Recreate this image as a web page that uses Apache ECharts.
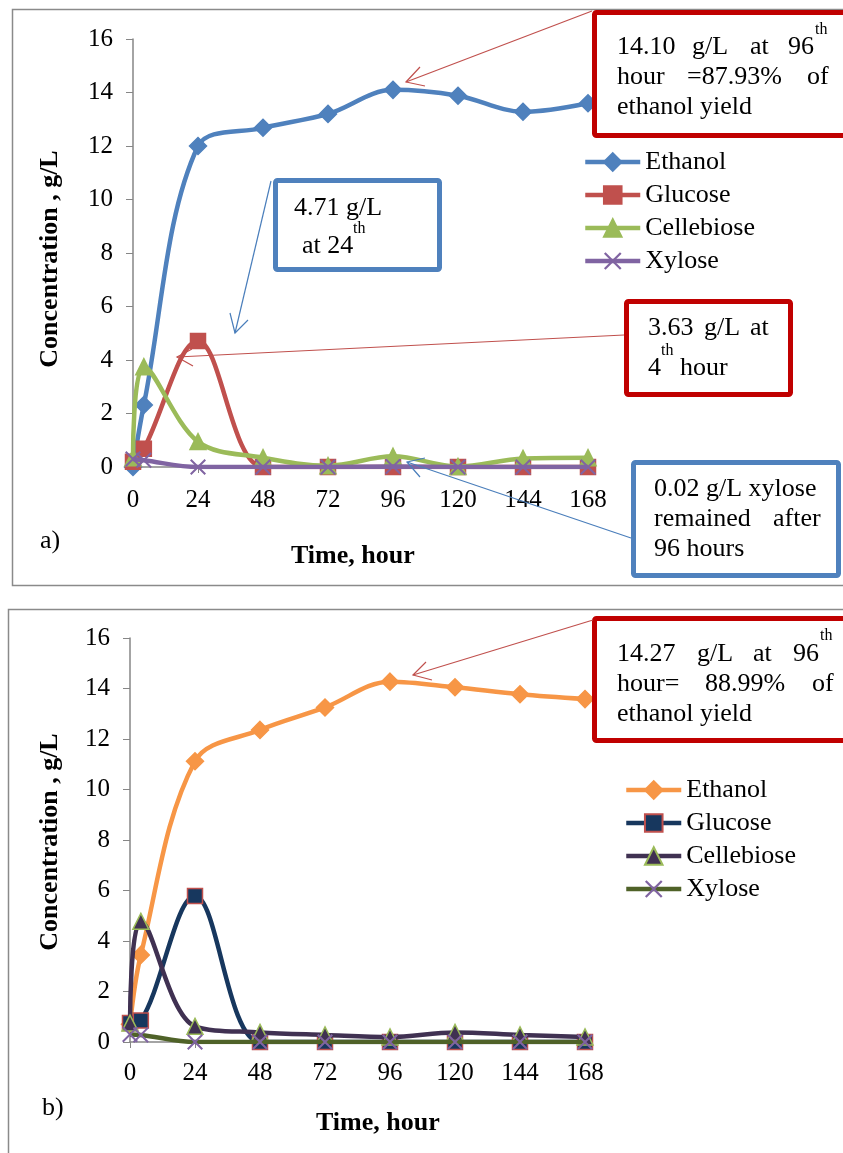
<!DOCTYPE html>
<html>
<head>
<meta charset="utf-8">
<script src="https://cdn.jsdelivr.net/npm/echarts@6/dist/echarts.min.js"></script>
<style>
html,body{margin:0;padding:0;background:#fff;}
#c1{position:absolute;left:0;top:0;width:843px;height:597px;}
#c2{position:absolute;left:0;top:597px;width:843px;height:556px;}
</style>
</head>
<body>
<div id="c1"></div>
<div id="c2"></div>
<script>
// ---- data ----
const hours = [0, 4, 24, 48, 72, 96, 120, 144, 168];
const seriesNames = ['Ethanol', 'Glucose', 'Cellebiose', 'Xylose'];
// chart a)
const ethanolA = [0, 2.32, 12.0, 12.68, 13.2, 14.1, 13.88, 13.28, 13.6];
const glucoseA = [0.2, 0.68, 4.71, 0, 0, 0, 0, 0, 0];
const cellobioseA = [0.35, 3.75, 0.95, 0.35, 0.05, 0.4, 0.02, 0.32, 0.35];
const xyloseA = [0.3, 0.25, 0, 0, 0, 0.02, 0, 0, 0];
// chart b)
const ethanolB = [0.7, 3.45, 11.12, 12.36, 13.25, 14.27, 14.05, 13.77, 13.58];
const glucoseB = [0.75, 0.85, 5.78, 0, 0, 0, 0, 0, 0];
const cellobioseB = [0.75, 4.78, 0.62, 0.38, 0.28, 0.2, 0.38, 0.28, 0.2];
const xyloseB = [0.3, 0.28, 0, 0, 0, 0, 0, 0, 0];
// axes
const xMin = 0, xMax = 168, xStep = 24;
const yMin = 0, yMax = 16, yStep = 2;
const xAxisTitle = 'Time, hour';
const yAxisTitle = 'Concentration , g/L';

const FONT = "'Liberation Serif', 'Times New Roman', serif";
const X_SYMBOL = 'path://M0,0.9L0.9,0L10,9.1L9.1,10Z M9.1,0L10,0.9L0.9,10L0,9.1Z';

function pairs(vals) { return hours.map((h, i) => [h, vals[i]]); }

function txt(x, y, s, size, opts) {
  opts = opts || {};
  return {
    type: 'text', x: x, y: y, rotation: opts.rotation || 0, z: 100,
    style: {
      text: s, fill: '#000',
      font: (opts.bold ? 'bold ' : '') + size + 'px ' + FONT,
      textAlign: opts.align || 'left', textVerticalAlign: 'middle'
    }
  };
}
function box(x, y, w, h, color) {
  return { type: 'rect', z: 90, shape: { x: x, y: y, width: w, height: h, r: 2 },
    style: { fill: '#fff', stroke: color, lineWidth: 5 } };
}
function arrow(start, tip, w1, w2, color) {
  return [
    { type: 'polyline', z: 95, shape: { points: [start, tip] }, style: { stroke: color, lineWidth: 1.2, fill: null } },
    { type: 'polyline', z: 95, shape: { points: [w1, tip, w2] }, style: { stroke: color, lineWidth: 1.2, fill: null } }
  ];
}
function frame(x, y, w, h) {
  return { type: 'rect', z: 1, shape: { x: x, y: y, width: w, height: h },
    style: { fill: null, stroke: '#8a8a8a', lineWidth: 1.5 } };
}

function axes() {
  const axisLine = { show: true, onZero: false, lineStyle: { color: '#868686', width: 1.5 } };
  return {
    xAxis: {
      type: 'value', min: xMin, max: xMax, interval: xStep,
      axisLine: axisLine, axisTick: { show: true, length: 6, lineStyle: { color: '#868686' } },
      splitLine: { show: false },
      axisLabel: { color: '#000', fontFamily: FONT, fontSize: 25, margin: 21 }
    },
    yAxis: {
      type: 'value', min: yMin, max: yMax, interval: yStep,
      axisLine: axisLine, axisTick: { show: true, length: 7, lineStyle: { color: '#868686' } },
      splitLine: { show: false },
      axisLabel: { color: '#000', fontFamily: FONT, fontSize: 25, margin: 20 }
    }
  };
}

function lineSeries(name, vals, lineColor, fill, border, symbol, size, z, bw) {
  return {
    name: name, type: 'line', data: pairs(vals), smooth: 0.35,
    symbol: symbol, symbolSize: size, z: z,
    lineStyle: { color: lineColor, width: 4.5 },
    itemStyle: { color: fill, borderColor: border, borderWidth: bw === undefined ? 1.5 : bw },
    emphasis: { disabled: true }
  };
}

function legend(left, top) {
  return {
    orient: 'vertical', left: left, top: top, itemWidth: 55, itemHeight: 22, itemGap: 7,
    selectedMode: false, data: seriesNames, padding: 0,
    lineStyle: { width: 4.5 },
    textStyle: { color: '#000', fontFamily: FONT, fontSize: 26, lineHeight: 26 }
  };
}

// ---------- chart a ----------
const c1 = echarts.init(document.getElementById('c1'));
const a1 = axes();
const g1 = [
  frame(12.5, 9.5, 840, 576),
  txt(50, 259, yAxisTitle, 26, { bold: true, align: 'center', rotation: Math.PI / 2 }),
  txt(291, 556, xAxisTitle, 26, { bold: true }),
  txt(40, 541, 'a)', 26),
  // 14.10 box
  box(594.5, 12.5, 300, 123, '#C00000'),
  txt(617, 47.5, '14.10', 26), txt(692, 47.5, 'g/L', 26), txt(750, 47.5, 'at', 26), txt(788, 47.5, '96', 26),
  txt(815, 30, 'th', 16),
  txt(617, 77.5, 'hour', 26), txt(687, 77.5, '=87.93%', 26), txt(807, 77.5, 'of', 26),
  txt(617, 107.5, 'ethanol yield', 26),
  // 4.71 box
  box(275.5, 180.5, 164, 89, '#4F81BD'),
  txt(294, 208.5, '4.71 g/L', 26), txt(302, 246.5, 'at 24', 26), txt(353, 229, 'th', 16),
  // 3.63 box
  box(626.5, 301.5, 164, 93, '#C00000'),
  txt(648, 328.5, '3.63', 26), txt(704, 328.5, 'g/L', 26), txt(750, 328.5, 'at', 26),
  txt(648, 368.5, '4', 26), txt(661, 351, 'th', 16), txt(680, 368.5, 'hour', 26),
  // 0.02 box
  box(633.5, 462.5, 205, 113, '#4F81BD'),
  txt(654, 489.5, '0.02 g/L xylose', 26),
  txt(654, 519.5, 'remained', 26), txt(773, 519.5, 'after', 26),
  txt(654, 549.5, '96 hours', 26)
].concat(
  arrow([592, 11], [406, 82], [420, 67], [425, 86], '#C0504D'),
  arrow([271, 181], [235, 333], [230, 313], [248, 320], '#4A7EBB'),
  arrow([624, 335], [177, 357], [192, 349], [193, 366], '#C0504D'),
  arrow([631, 538], [407, 462], [425, 458], [420, 477], '#4A7EBB')
);
c1.setOption({
  animation: false,
  grid: { left: 133, top: 39, width: 455, height: 428 },
  xAxis: a1.xAxis, yAxis: a1.yAxis,
  legend: legend(583, 149),
  series: [
    lineSeries('Ethanol', ethanolA, '#4F81BD', '#4F81BD', '#4F81BD', 'diamond', 17, 2),
    lineSeries('Glucose', glucoseA, '#C0504D', '#C0504D', '#C0504D', 'rect', 15, 3),
    lineSeries('Cellebiose', cellobioseA, '#9BBB59', '#9BBB59', '#9BBB59', 'triangle', 16, 4),
    lineSeries('Xylose', xyloseA, '#8064A2', '#8064A2', '#8064A2', X_SYMBOL, 16, 5, 0)
  ],
  graphic: g1
});

// ---------- chart b ----------
const c2 = echarts.init(document.getElementById('c2'));
const a2 = axes();
a2.xAxis.axisLabel.margin = 19;
const g2 = [
  frame(8.5, 12.5, 845, 600),
  txt(50, 245, yAxisTitle, 26, { bold: true, align: 'center', rotation: Math.PI / 2 }),
  txt(316, 526, xAxisTitle, 26, { bold: true }),
  txt(42, 511, 'b)', 26),
  box(594.5, 21.5, 300, 122, '#C00000'),
  txt(617, 57.5, '14.27', 26), txt(697, 57.5, 'g/L', 26), txt(753, 57.5, 'at', 26), txt(793, 57.5, '96', 26),
  txt(820, 39, 'th', 16),
  txt(617, 87.5, 'hour=', 26), txt(705, 87.5, '88.99%', 26), txt(812, 87.5, 'of', 26),
  txt(617, 117.5, 'ethanol yield', 26)
].concat(
  arrow([593, 23], [413, 78], [426, 65], [432, 83], '#C0504D')
);
c2.setOption({
  animation: false,
  grid: { left: 130, top: 41, width: 455, height: 404 },
  xAxis: a2.xAxis, yAxis: a2.yAxis,
  legend: legend(624, 180),
  series: [
    lineSeries('Ethanol', ethanolB, '#F79646', '#F79646', '#F79646', 'diamond', 17, 2),
    lineSeries('Glucose', glucoseB, '#17375E', '#17375E', '#C0504D', 'rect', 15, 3),
    lineSeries('Cellebiose', cellobioseB, '#403152', '#403152', '#9BBB59', 'triangle', 16, 4),
    lineSeries('Xylose', xyloseB, '#4F6228', '#8064A2', '#8064A2', X_SYMBOL, 16, 5, 0)
  ],
  graphic: g2
});
</script>
</body>
</html>
